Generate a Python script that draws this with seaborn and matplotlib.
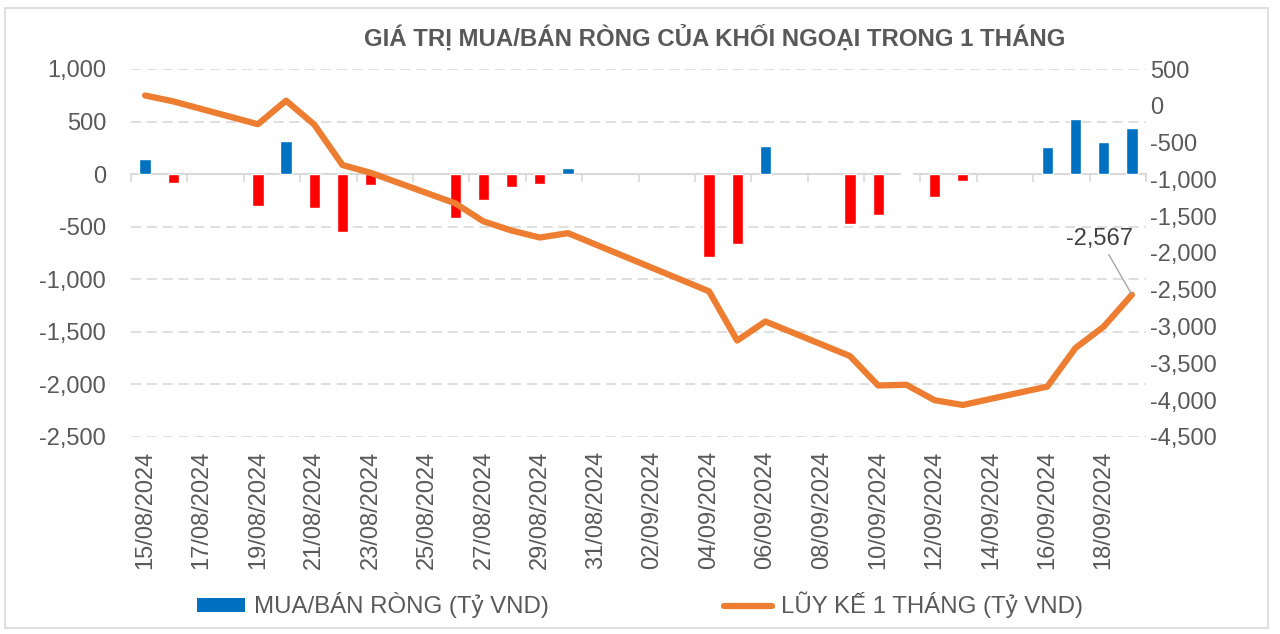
import pandas as pd
import numpy as np
import matplotlib.pyplot as plt
import matplotlib.ticker as mticker
from matplotlib.patches import Patch, Rectangle
from matplotlib.lines import Line2D
import seaborn as sns

# ── Data ──────────────────────────────────────────────────────────────────────
dates = pd.date_range("2024-08-15", "2024-09-19", freq="D").strftime("%d/%m/%Y").tolist()

# net buy/sell per day, bn VND (None = no trading day)
net_value = [140, -85, None, None, -300, 317, -320, -548, -105, None, None,
             -415, -247, -124, -95, 63, None, None, None, None,
             -790, -664, 264, None, None, -473, -387, 8, -213, -67, None, None,
             254, 527, 302, 441]

# 1-month running total, bn VND
cumulative = [140, 60, None, None, -250, 70, -255, -805, -910, None, None,
              -1325, -1570, -1695, -1790, -1730, None, None, None, None,
              -2520, -3190, -2930, None, None, -3400, -3800, -3790, -4000, -4065, None, None,
              -3815, -3290, -3000, -2567]

left_ticks = [-2500, -2000, -1500, -1000, -500, 0, 500, 1000]
right_ticks = [-4500, -4000, -3500, -3000, -2500, -2000, -1500, -1000, -500, 0, 500]

title = "GIÁ TRỊ MUA/BÁN RÒNG CỦA KHỐI NGOẠI TRONG 1 THÁNG"
bar_label = "MUA/BÁN RÒNG (Tỷ VND)"
line_label = "LŨY KẾ 1 THÁNG (Tỷ VND)"

# ── Style ─────────────────────────────────────────────────────────────────────
sns.set_theme(style="white")
plt.rcParams['font.family'] = ['Liberation Sans', 'DejaVu Sans']
BLUE, RED, ORANGE = '#0070C0', '#FF0000', '#ED7D31'
TXT, GRID = '#595959', '#D9D9D9'

df = pd.DataFrame({'date': dates, 'net': net_value, 'cum': cumulative})
df['net'] = df['net'].astype(float)
df['cum'] = df['cum'].astype(float)
df['pos'] = np.arange(len(df))
df['side'] = np.where(df['net'] >= 0, 'buy', 'sell')

fig = plt.figure(figsize=(12.8, 6.34), dpi=100)
ax = fig.add_axes([131 / 1280, 1 - 437 / 634, (1146 - 131) / 1280, (437 - 69) / 634])

# bars
bars = df.dropna(subset=['net'])
sns.barplot(data=bars, x='date', y='net', hue='side', order=dates,
            palette={'buy': BLUE, 'sell': RED}, dodge=False, width=0.4,
            saturation=1, errorbar=None, legend=False, ax=ax)

ax.set_ylim(left_ticks[0], left_ticks[-1])
ax.set_yticks(left_ticks)
ax.yaxis.set_major_formatter(mticker.FuncFormatter(lambda v, p: f"{v:,.0f}"))
ax.set_xlim(-0.5, len(dates) - 0.5)
ax.set_xticks(range(0, len(dates), 2))
ax.set_xticklabels(dates[::2], rotation=90)
ax.set_xlabel('')
ax.set_ylabel('')
ax.tick_params(axis='y', length=0, pad=18, labelsize=17, labelcolor=TXT)
ax.tick_params(axis='x', length=0, pad=10, labelsize=17, labelcolor=TXT)
ax.grid(axis='y', color=GRID, linestyle=(0, (6, 3.5)), linewidth=1.2)
ax.grid(axis='x', visible=False)
for s in ax.spines.values():
    s.set_visible(False)

# category axis sitting at zero
zero_pos = (0 - left_ticks[0]) / (left_ticks[-1] - left_ticks[0])
sec = ax.secondary_xaxis(zero_pos)
sec.set_alignment('bottom')
sec.set_xticks(np.arange(-0.5, len(dates), 2))
sec.tick_params(axis='x', direction='out', length=6, width=1.2, color=GRID,
                labelbottom=False, labeltop=False)
sec.spines['bottom'].set_color(GRID)
sec.spines['bottom'].set_linewidth(1.5)

# cumulative line on secondary axis
ax2 = ax.twinx()
line = df.dropna(subset=['cum'])
sns.lineplot(x=line['pos'], y=line['cum'], ax=ax2, color=ORANGE, linewidth=4.5,
             solid_joinstyle='round', solid_capstyle='round')
ax2.set_ylim(right_ticks[0], right_ticks[-1])
ax2.set_yticks(right_ticks)
ax2.yaxis.set_major_formatter(mticker.FuncFormatter(lambda v, p: f"{v:,.0f}"))
ax2.set_ylabel('')
ax2.set_xlabel('')
ax2.tick_params(axis='y', length=0, pad=3, labelsize=17, labelcolor=TXT)
ax2.grid(False)
for s in ax2.spines.values():
    s.set_visible(False)
ax.set_xlim(-0.5, len(dates) - 0.5)

last = line.iloc[-1]
ax2.annotate(f"{last['cum']:,.0f}", xy=(last['pos'], last['cum']),
             xytext=(-23, 40), textcoords='offset points', ha='center', va='center',
             fontsize=17, color='#404040',
             arrowprops=dict(arrowstyle='-', color='#A6A6A6', lw=1, shrinkA=1, shrinkB=0))

# title
fig.text(715 / 1280, 1 - 38 / 634, title, ha='center', va='center',
         fontsize=17.3, fontweight='bold', color=TXT)

# legend
handles = [Patch(facecolor=BLUE, edgecolor='none'),
           Line2D([0], [0], color=ORANGE, linewidth=4.5, solid_capstyle='round')]
fig.legend(handles, [bar_label, line_label], loc='center',
           bbox_to_anchor=(0.5, 1 - 605 / 634), ncol=2, frameon=False,
           fontsize=17.3, labelcolor=TXT, handlelength=2.0, handleheight=0.5,
           handletextpad=0.35, columnspacing=7.3)

# outer chart border
fig.patches.append(Rectangle((5 / 1280, 6 / 634), 1263 / 1280, 620 / 634,
                             transform=fig.transFigure, fill=False,
                             edgecolor=GRID, linewidth=1.2))

plt.savefig('out.png', dpi=100)
plt.close()
